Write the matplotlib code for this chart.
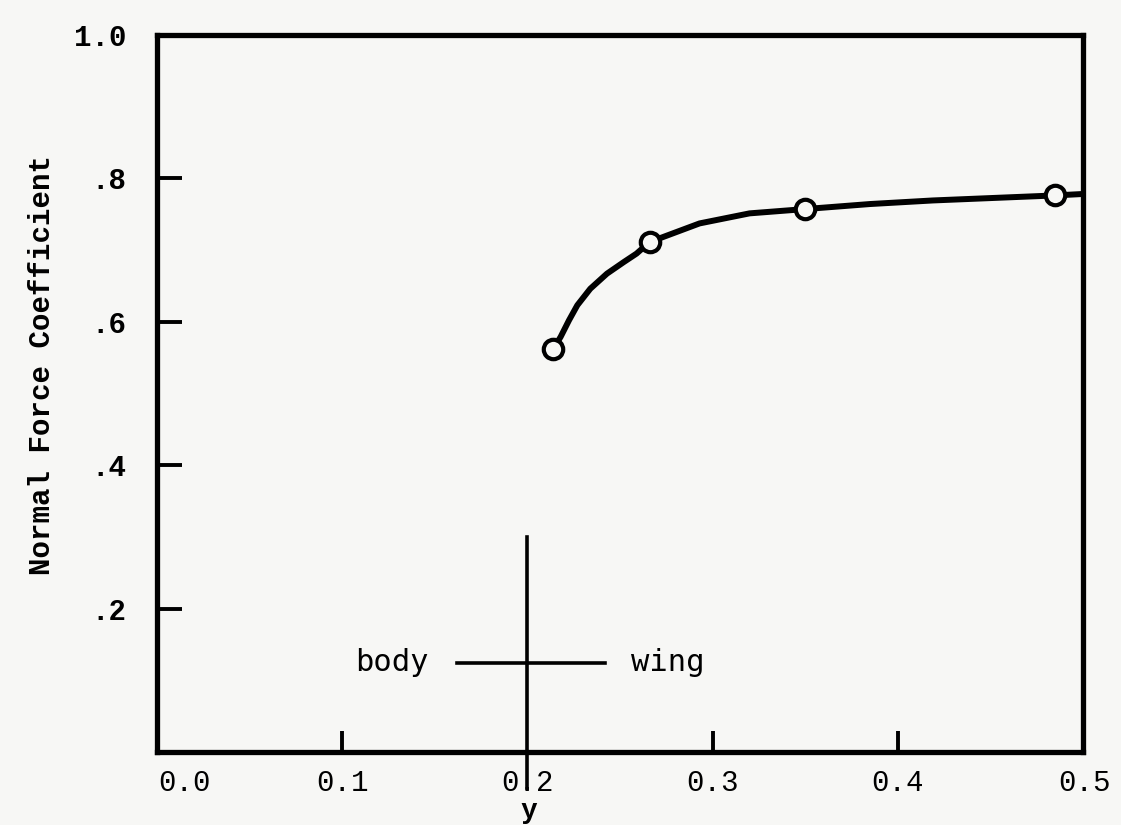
import matplotlib
matplotlib.use("Agg")
from matplotlib import pyplot as plt
from matplotlib.transforms import ScaledTranslation

# measured points (circles)
y_pts = [0.214, 0.266, 0.350, 0.485]
cn_pts = [0.562, 0.711, 0.757, 0.776]

# faired curve
y_curve = [0.214, 0.218, 0.2225, 0.227, 0.234, 0.243, 0.252, 0.259, 0.266,
           0.293, 0.320, 0.350, 0.385, 0.419, 0.485, 0.5]
cn_curve = [0.562, 0.579, 0.602, 0.623, 0.646, 0.667, 0.683, 0.695, 0.711,
            0.737, 0.751, 0.757, 0.764, 0.769, 0.776, 0.778]

xticks = [0.0, 0.1, 0.2, 0.3, 0.4, 0.5]
xlabels = ['0.0', '0.1', '0.2', '0.3', '0.4', '0.5']
yticks = [0.2, 0.4, 0.6, 0.8, 1.0]
ylabels = ['.2', '.4', '.6', '.8', '1.0']

mono = 'Liberation Mono'
bg = '#f7f7f5'

fig = plt.figure(figsize=(11.21, 8.25), dpi=100, facecolor=bg)
ax = fig.add_axes([0.140, 0.088, 0.826, 0.870], facecolor=bg)

ax.plot(y_curve, cn_curve, color='black', lw=4.3, solid_capstyle='butt',
        solid_joinstyle='round', zorder=3)
ax.plot(y_pts, cn_pts, 'o', ms=14, mfc=bg, mec='black', mew=3, zorder=4)

# body / wing junction marker (runs down through the 0.2 label)
ax.plot([0.2, 0.2], [-0.049, 0.30], color='black', lw=2.6, clip_on=False, zorder=5)
ax.plot([0.162, 0.242], [0.125, 0.125], color='black', lw=2.6)
ax.text(0.127, 0.125, 'body', fontsize=22, family='DejaVu Sans Mono', ha='center', va='center')
ax.text(0.276, 0.125, 'wing', fontsize=22, family='DejaVu Sans Mono', ha='center', va='center')

ax.set_xlim(0, 0.5)
ax.set_ylim(0, 1.0)

for s in ax.spines.values():
    s.set_linewidth(3.8)

ax.set_xticks(xticks)
ax.set_xticklabels(xlabels, fontsize=21, family=mono)
ax.set_yticks(yticks)
ax.set_yticklabels(ylabels, fontsize=21, family=mono, fontweight='bold')
ax.tick_params(axis='x', direction='in', length=15, width=2.8, pad=12)
ax.tick_params(axis='y', direction='in', length=18, width=2.8, pad=22)
for i in (0, 2, 5):
    ax.xaxis.get_major_ticks()[i].tick1line.set_visible(False)
ax.yaxis.get_major_ticks()[-1].tick1line.set_visible(False)
first = ax.get_xticklabels()[0]
first.set_transform(first.get_transform() + ScaledTranslation(0.28, 0, fig.dpi_scale_trans))
last = ax.get_xticklabels()[-1]
last.set_transform(last.get_transform() + ScaledTranslation(0.02, 0, fig.dpi_scale_trans))

ax.set_xlabel('y', fontsize=20, family=mono, fontweight='bold', va='center')
ax.xaxis.set_label_coords(0.401, -0.082)
ax.set_ylabel('Normal Force Coefficient', fontsize=21, family=mono, fontweight='bold')
ax.yaxis.set_label_coords(-0.109, 0.54)

fig.savefig('out.png', dpi=100, facecolor=bg)
